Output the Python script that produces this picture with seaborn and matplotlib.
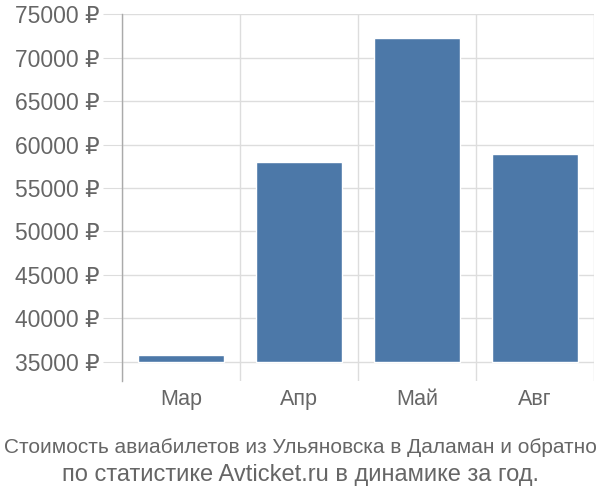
import pandas as pd
import matplotlib
matplotlib.use("Agg")
import matplotlib.pyplot as plt
import seaborn as sns

months = ["Мар", "Апр", "Май", "Авг"]
prices = [35770, 57940, 72220, 58900]
base = 35000
y_ticks = [35000, 40000, 45000, 50000, 55000, 60000, 65000, 70000, 75000]
title_1 = "Стоимость авиабилетов из Ульяновска в Даламан и обратно"
title_2 = "по статистике Avticket.ru в динамике за год."

sns.set_style("white")
plt.rcParams["font.family"] = ["Liberation Sans", "DejaVu Sans"]

df = pd.DataFrame({"month": months, "price": prices})
df["above"] = df["price"] - base

fig = plt.figure(figsize=(6, 5), dpi=100)
ax = fig.add_axes([0.2033, 0.238, 0.7867, 0.7334])

sns.barplot(data=df, x="month", y="above", bottom=base, color="#4C78A8",
            saturation=1, width=0.73, ax=ax, zorder=3)

ax.set_xlim(-0.5, 3.5)
ax.set_ylim(32780, 75000)
ax.set_yticks(y_ticks)
ax.set_yticklabels([f"{v} ₽" for v in y_ticks], fontsize=16.5, color="#666666")
ax.set_xticks(range(len(months)))
ax.set_xticklabels(months, fontsize=15.5, color="#666666")
ax.set_xticks([-0.5, 0.5, 1.5, 2.5, 3.5], minor=True)
ax.set_xlabel("")
ax.set_ylabel("")

ax.grid(axis="y", which="major", color="#dddddd", linewidth=1, zorder=0)
ax.grid(axis="x", which="minor", color="#dddddd", linewidth=1, zorder=0)
ax.tick_params(axis="y", length=14, color="#dddddd", pad=2, left=True)
ax.tick_params(axis="x", which="both", length=0, pad=6)

for s in ["top", "right", "bottom"]:
    ax.spines[s].set_visible(False)
ax.spines["left"].set_color("#aaaaaa")
ax.spines["left"].set_linewidth(1)

# first line is squeezed to the figure width in the original
fig.text(0.5, 0.094, title_1, ha="center", va="baseline",
         fontsize=15, color="#666666")
fig.text(0.5, 0.038, title_2, ha="center", va="baseline",
         fontsize=17, color="#666666")

fig.savefig("out.png", dpi=100)
